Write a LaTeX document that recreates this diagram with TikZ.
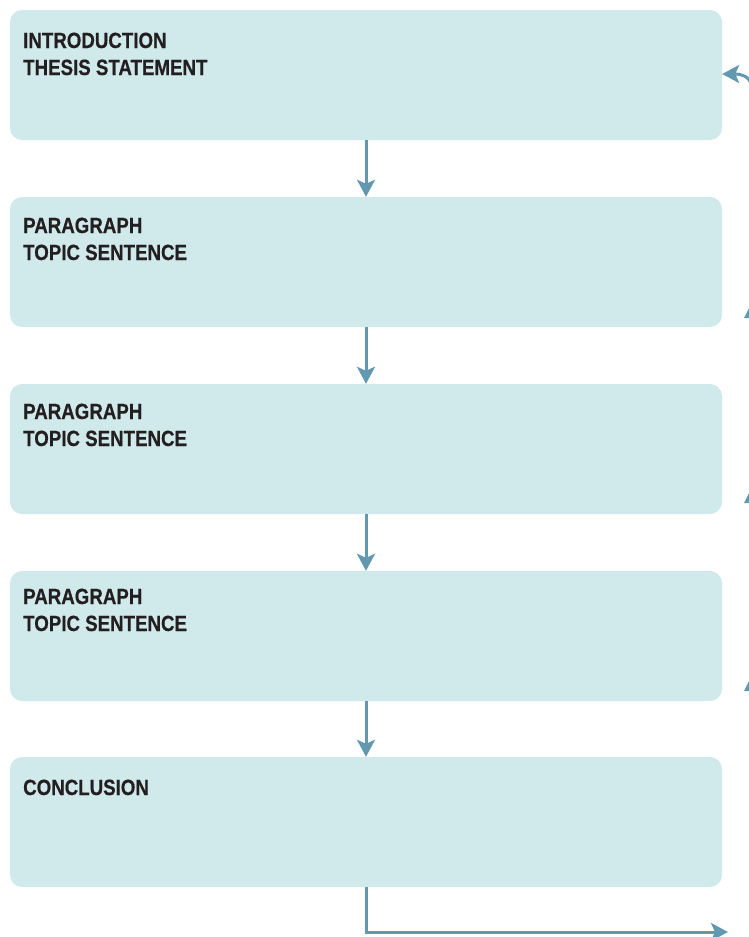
\documentclass[tikz,border=0pt]{standalone}
\usepackage{fontspec}
\setmainfont{Liberation Sans}[FakeStretch=0.85,FakeBold=0.5]
\usetikzlibrary{arrows.meta}
\definecolor{boxfill}{HTML}{D0E9EB}
\definecolor{arrowc}{HTML}{6399B0}
\definecolor{txt}{HTML}{231F20}
\tikzset{
  box/.style={fill=boxfill, rounded corners=12pt, minimum width=712pt, minimum height=130pt, inner sep=0pt, draw=none},
  lbl/.style={anchor=base west, inner sep=0pt, text=txt, font=\fontsize{22}{26}\selectfont\bfseries},
  conn/.style={draw=arrowc, line width=3pt, -{Stealth[length=17pt,width=18pt,inset=4pt]}},
  tipc/.style={fill=arrowc, draw=none}
}
\begin{document}
\begin{tikzpicture}[x=1pt,y=-1pt]
\useasboundingbox (0,0) rectangle (749,937);
\node[box] (b1) at (366,75) {};
\node[box] (b2) at (366,262) {};
\node[box] (b3) at (366,449) {};
\node[box] (b4) at (366,636) {};
\node[box] (b5) at (366,822) {};

\node[lbl] (t1a) at (23,48) {INTRODUCTION};
\node[lbl] (t1b) at (23,75) {THESIS STATEMENT};
\node[lbl] (t2a) at (23,233) {PARAGRAPH};
\node[lbl] (t2b) at (23,260) {TOPIC SENTENCE};
\node[lbl] (t3a) at (23,419) {PARAGRAPH};
\node[lbl] (t3b) at (23,446) {TOPIC SENTENCE};
\node[lbl] (t4a) at (23,604) {PARAGRAPH};
\node[lbl] (t4b) at (23,631) {TOPIC SENTENCE};
\node[lbl] (t5a) at (23,795) {CONCLUSION};

\draw[conn] (b1.south) -- (b2.north);
\draw[conn] (b2.south) -- (b3.north);
\draw[conn] (b3.south) -- (b4.north);
\draw[conn] (b4.south) -- (b5.north);

\coordinate (bend) at (366,932);
\coordinate (endb) at (728,932);
\draw[conn] (b5.south) -- (bend) -- (endb);

\coordinate (c1) at (752,86);
\draw[conn] (c1) .. controls (749,76) and (742,74) .. ([yshift=1pt]b1.east);

\fill[tipc] (744,318) -- (749,308) -- (751,318) -- cycle;
\fill[tipc] (744,503) -- (749,493) -- (751,503) -- cycle;
\fill[tipc] (744,691) -- (749,681) -- (751,691) -- cycle;
\end{tikzpicture}
\end{document}
